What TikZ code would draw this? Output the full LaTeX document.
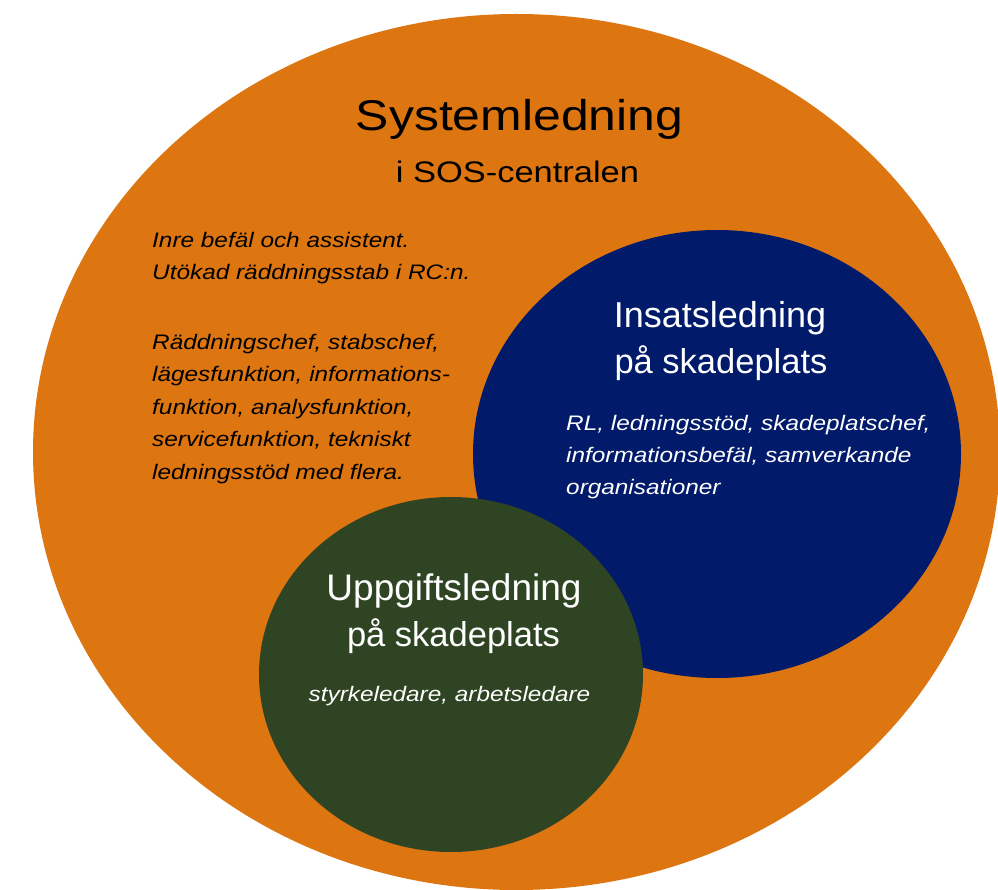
\documentclass[tikz,border=0pt]{standalone}
\usepackage{fontspec}
\setmainfont{Liberation Sans}
\newfontfamily\stretchfont[FakeStretch=1.16]{Liberation Sans}
\definecolor{sysorange}{RGB}{221,117,17}
\definecolor{insblue}{RGB}{1,26,106}
\definecolor{uppgreen}{RGB}{47,68,35}
\tikzset{
  titletext/.style={anchor=base, inner sep=0pt, font=\stretchfont\fontsize{43}{50}\selectfont, text=black},
  subtitletext/.style={anchor=base, inner sep=0pt, font=\stretchfont\fontsize{29.7}{35}\selectfont, text=black},
  lefttext/.style={anchor=base west, inner sep=0pt, font=\stretchfont\itshape\fontsize{21}{26}\selectfont, text=black},
  headtext/.style={anchor=base, inner sep=0pt, font=\fontsize{36}{42}\selectfont, text=white},
  whiteit/.style={anchor=base west, inner sep=0pt, font=\stretchfont\itshape\fontsize{21}{26}\selectfont, text=white},
}
\begin{document}
\begin{tikzpicture}[x=1pt,y=-1pt]
\useasboundingbox (0,0) rectangle (998,890);
% ellipses
\fill[sysorange] (516.5,452) ellipse [x radius=483.5, y radius=438];
\fill[insblue] (717,454) ellipse [x radius=244, y radius=224];
\fill[uppgreen] (451,674.5) ellipse [x radius=192, y radius=177.5];
% title
\node[titletext] (sys1) at (519.5,130.5) {Systemledning};
\node[subtitletext] (sys2) at (517.5,183) {i SOS-centralen};
% left text
\node[lefttext] (l1) at (152,247.5) {Inre befäl och assistent.};
\node[lefttext] (l2) at (152,280) {Utökad räddningsstab i RC:n.};
\node[lefttext] (l3) at (152,349) {Räddningschef, stabschef,};
\node[lefttext] (l4) at (152,381.6) {lägesfunktion, informations-};
\node[lefttext] (l5) at (152,414.2) {funktion, analysfunktion,};
\node[lefttext] (l6) at (152,446.8) {servicefunktion, tekniskt};
\node[lefttext] (l7) at (152,479.4) {ledningsstöd med flera.};
% blue
\node[headtext] (ins1) at (720,327) {Insatsledning};
\node[headtext, font=\fontsize{34.5}{40}\selectfont] (ins2) at (721,373.5) {på skadeplats};
\node[whiteit] (b1) at (566,430) {RL, ledningsstöd, skadeplatschef,};
\node[whiteit] (b2) at (566,462) {informationsbefäl, samverkande};
\node[whiteit] (b3) at (566,494) {organisationer};
% green
\node[headtext, font=\fontsize{37}{42}\selectfont] (upp1) at (454,600) {Uppgiftsledning};
\node[headtext, font=\fontsize{34.5}{40}\selectfont] (upp2) at (453.5,646.7) {på skadeplats};
\node[whiteit, anchor=base] (g1) at (449.5,701.7) {styrkeledare, arbetsledare};
\end{tikzpicture}
\end{document}
